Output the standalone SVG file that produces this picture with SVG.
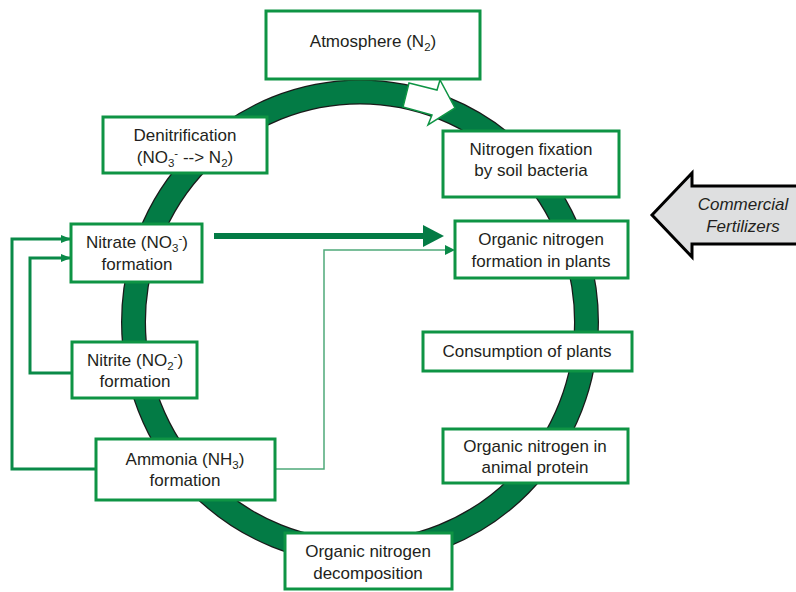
<svg xmlns="http://www.w3.org/2000/svg" width="796" height="592" viewBox="0 0 796 592">
<defs>
<style>
.box{fill:#fff;stroke:#0e9444;stroke-width:3}
.t{font-family:"Liberation Sans",Arial,sans-serif;font-size:17px;fill:#231f20;text-anchor:middle}
.s{font-size:11.5px}
.conn{fill:none;stroke:#0a8a48;stroke-width:3}
.thin{fill:none;stroke:#4fa97a;stroke-width:1.5}
</style>
<marker id="ah" viewBox="0 0 10 10" refX="10" refY="5" markerWidth="10" markerHeight="10" markerUnits="userSpaceOnUse" orient="auto"><path d="M0,1 L10,5 L0,9 Z" fill="#0a8a48"/></marker>
</defs>
<rect width="796" height="592" fill="#fff"/>
<g id="ring">
<ellipse cx="360" cy="322" rx="226.5" ry="230" fill="none" stroke="#1a1a1a" stroke-width="25"/>
<ellipse cx="360" cy="322" rx="226.5" ry="230" fill="none" stroke="#037b45" stroke-width="22.5"/>
<polygon points="409,83 437,90 440,80 455,108 428,125 432,115 403,107" fill="#fff" stroke="#0e9444" stroke-width="1.5"/>
</g>
<g id="connectors">
<line x1="214" y1="236" x2="425" y2="236" stroke="#037b45" stroke-width="6"/>
<polygon points="423,225 444,236 423,247" fill="#037b45"/>
<polyline class="thin" points="275,469 324,469 324,250 446,250"/>
<polygon points="445,245 455,250 445,255" fill="#0a8a48"/>
<polyline class="conn" points="96,469 12,469 12,239 71,239" marker-end="url(#ah)"/>
<polyline class="conn" points="72,373 30,373 30,258 71,258" marker-end="url(#ah)"/>
</g>
<g id="fertilizers">
<polygon points="652,215 692,173 692,186 800,186 800,244 692,244 692,257" fill="#dedfe0" stroke="#000" stroke-width="3"/>
<text class="t" x="743" y="210" font-style="italic">Commercial</text>
<text class="t" x="743" y="232" font-style="italic">Fertilizers</text>
</g>
<g id="atmosphere">
<rect class="box" x="266" y="11" width="214" height="68"/>
<text class="t" x="373" y="47">Atmosphere (N<tspan class="s" dy="4">2</tspan><tspan dy="-4">)</tspan></text>
</g>
<g id="denitrification">
<rect class="box" x="103" y="117" width="164" height="56"/>
<text class="t" x="185" y="141">Denitrification</text>
<text class="t" x="185" y="163">(NO<tspan class="s" dy="4">3</tspan><tspan class="s" dy="-10">-</tspan><tspan dy="6"> --&gt; N</tspan><tspan class="s" dy="4">2</tspan><tspan dy="-4">)</tspan></text>
</g>
<g id="nitrate">
<rect class="box" x="71" y="224" width="131" height="58"/>
<text class="t" x="137" y="248">Nitrate (NO<tspan class="s" dy="4">3</tspan><tspan class="s" dy="-10">-</tspan><tspan dy="6">)</tspan></text>
<text class="t" x="137" y="270">formation</text>
</g>
<g id="nitrite">
<rect class="box" x="72" y="342" width="125" height="56"/>
<text class="t" x="135" y="366">Nitrite (NO<tspan class="s" dy="4">2</tspan><tspan class="s" dy="-10">-</tspan><tspan dy="6">)</tspan></text>
<text class="t" x="135" y="387">formation</text>
</g>
<g id="ammonia">
<rect class="box" x="96" y="439" width="179" height="61"/>
<text class="t" x="185" y="465">Ammonia (NH<tspan class="s" dy="4">3</tspan><tspan dy="-4">)</tspan></text>
<text class="t" x="185" y="486">formation</text>
</g>
<g id="fixation">
<rect class="box" x="443" y="131" width="176" height="66"/>
<text class="t" x="531" y="155">Nitrogen fixation</text>
<text class="t" x="531" y="176">by soil bacteria</text>
</g>
<g id="plants">
<rect class="box" x="455" y="221" width="173" height="57"/>
<text class="t" x="541" y="245">Organic nitrogen</text>
<text class="t" x="541" y="267">formation in plants</text>
</g>
<g id="consumption">
<rect class="box" x="423" y="332" width="209" height="39"/>
<text class="t" x="527" y="357">Consumption of plants</text>
</g>
<g id="animal">
<rect class="box" x="443" y="429" width="185" height="54"/>
<text class="t" x="535" y="452">Organic nitrogen in</text>
<text class="t" x="535" y="473">animal protein</text>
</g>
<g id="decomposition">
<rect class="box" x="285" y="533" width="167" height="56"/>
<text class="t" x="368" y="557">Organic nitrogen</text>
<text class="t" x="368" y="579">decomposition</text>
</g>
</svg>
